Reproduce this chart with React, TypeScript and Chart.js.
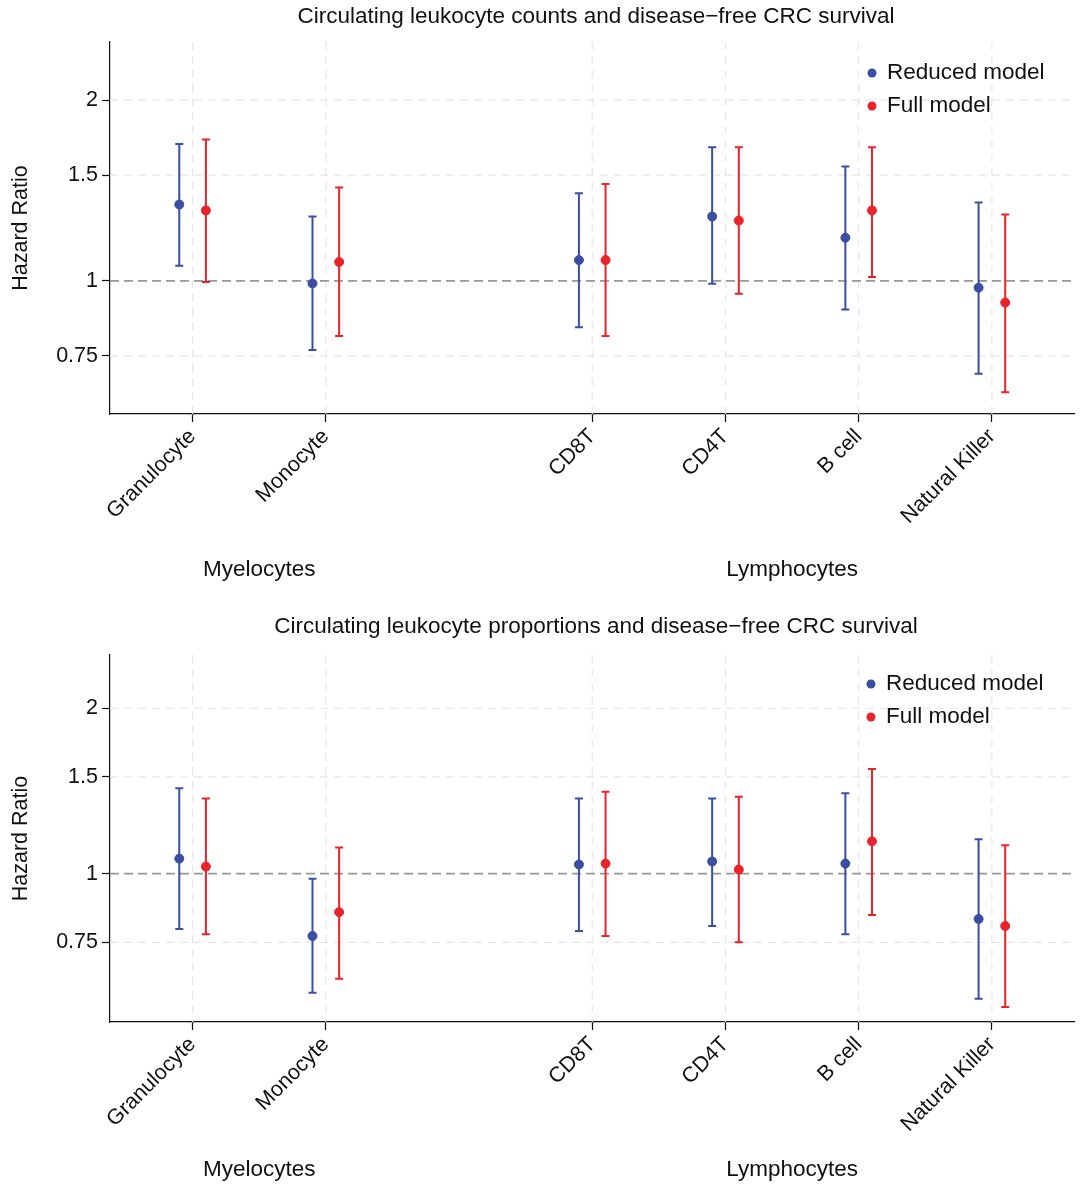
import React, { useEffect, useRef } from "react";
import { Chart, registerables } from "chart.js";
Chart.register(...registerables);

const categories = ["Granulocyte", "Monocyte", "CD8T", "CD4T", "B cell", "Natural Killer"];
const catPos = [1, 2, 4, 5, 6, 7];
const yTicks = [0.75, 1, 1.5, 2];

// Counts chart
const countsRedHR = [1.34, 0.99, 1.083, 1.28, 1.18, 0.974];
const countsRedLo = [1.06, 0.767, 0.837, 0.989, 0.896, 0.70];
const countsRedHi = [1.69, 1.28, 1.40, 1.67, 1.55, 1.35];
const countsFullHR = [1.31, 1.075, 1.083, 1.26, 1.31, 0.92];
const countsFullLo = [0.996, 0.809, 0.809, 0.952, 1.015, 0.652];
const countsFullHi = [1.72, 1.43, 1.45, 1.67, 1.67, 1.29];

// Proportions chart
const propRedHR = [1.065, 0.77, 1.039, 1.052, 1.043, 0.827];
const propRedLo = [0.793, 0.607, 0.786, 0.803, 0.776, 0.592];
const propRedHi = [1.43, 0.979, 1.37, 1.37, 1.40, 1.155];
const propFullHR = [1.03, 0.851, 1.043, 1.017, 1.145, 0.803];
const propFullLo = [0.776, 0.644, 0.77, 0.75, 0.841, 0.572];
const propFullHi = [1.37, 1.116, 1.41, 1.38, 1.55, 1.126];

const BLUE = "#3b4ea3";
const RED = "#e8232a";
const FONT = "'Liberation Sans', Arial, sans-serif";

type Cfg = {
  title: string; redHR: number[]; redLo: number[]; redHi: number[];
  fullHR: number[]; fullLo: number[]; fullHi: number[];
  yMin: number; yMax: number; padTop: number; xHeight: number;
  titleY: number; groupY: number; legX: number; legY: number;
};

function ChartPanel({ c }: { c: Cfg }) {
  const ref = useRef<HTMLCanvasElement>(null);
  useEffect(() => {
    const off = 0.1;
    const mk = (hr: number[], lo: number[], hi: number[], d: number) =>
      hr.map((v, i) => ({ x: catPos[i] + d, y: v, lo: lo[i], hi: hi[i] }));
    const plugin = {
      id: "deco",
      beforeDatasetsDraw(chart: any) {
        const { ctx, chartArea: a, scales } = chart;
        const xs = scales.x, ys = scales.y;
        ctx.save();
        ctx.strokeStyle = "#e6e6e6"; ctx.lineWidth = 1.2; ctx.setLineDash([8, 6]);
        catPos.forEach((p) => { const x = xs.getPixelForValue(p); ctx.beginPath(); ctx.moveTo(x, a.top); ctx.lineTo(x, a.bottom); ctx.stroke(); });
        yTicks.forEach((t) => { const y = ys.getPixelForValue(t); ctx.beginPath(); ctx.moveTo(a.left, y); ctx.lineTo(a.right, y); ctx.stroke(); });
        ctx.strokeStyle = "#999"; ctx.lineWidth = 1.8; ctx.setLineDash([9, 5]);
        const y1 = ys.getPixelForValue(1); ctx.beginPath(); ctx.moveTo(a.left, y1); ctx.lineTo(a.right, y1); ctx.stroke();
        ctx.setLineDash([]);
        chart.data.datasets.forEach((ds: any) => {
          ctx.strokeStyle = ds.backgroundColor; ctx.lineWidth = 2;
          ds.data.forEach((d: any) => {
            const x = xs.getPixelForValue(d.x), yl = ys.getPixelForValue(d.lo), yh = ys.getPixelForValue(d.hi);
            ctx.beginPath(); ctx.moveTo(x, yl); ctx.lineTo(x, yh);
            ctx.moveTo(x - 4, yl); ctx.lineTo(x + 4, yl); ctx.moveTo(x - 4, yh); ctx.lineTo(x + 4, yh); ctx.stroke();
          });
        });
        ctx.restore();
      },
      afterDraw(chart: any) {
        const { ctx, scales } = chart;
        ctx.save();
        ctx.fillStyle = "#111"; ctx.font = `22.5px ${FONT}`; ctx.textAlign = "center"; ctx.textBaseline = "middle";
        ctx.fillText(c.title, 596, c.titleY);
        ctx.fillText("Myelocytes", (scales.x.getPixelForValue(1) + scales.x.getPixelForValue(2)) / 2, c.groupY);
        ctx.fillText("Lymphocytes", (scales.x.getPixelForValue(4) + scales.x.getPixelForValue(7)) / 2, c.groupY);
        ctx.textAlign = "left"; ctx.font = `22.5px ${FONT}`;
        [["Reduced model", BLUE], ["Full model", RED]].forEach(([t, col], i) => {
          const y = c.legY + i * 33;
          ctx.fillStyle = col; ctx.beginPath(); ctx.arc(c.legX, y, 4.5, 0, Math.PI * 2); ctx.fill();
          ctx.fillStyle = "#111"; ctx.fillText(t, c.legX + 15, y);
        });
        ctx.restore();
      },
    };
    const chart = new Chart(ref.current!, {
      type: "scatter",
      data: {
        datasets: [
          { label: "Reduced model", data: mk(c.redHR, c.redLo, c.redHi, -off) as any, backgroundColor: BLUE, borderColor: BLUE, pointRadius: 4.5 },
          { label: "Full model", data: mk(c.fullHR, c.fullLo, c.fullHi, off) as any, backgroundColor: RED, borderColor: RED, pointRadius: 4.5 },
        ],
      },
      options: {
        animation: false, responsive: false,
        layout: { padding: { top: c.padTop, right: 0, left: 8, bottom: 0 } },
        plugins: { legend: { display: false }, tooltip: { enabled: false } },
        scales: {
          x: {
            type: "linear", min: 0.38, max: 7.62,
            afterBuildTicks: (s: any) => { s.ticks = catPos.map((v) => ({ value: v })); },
            afterFit: (s: any) => { s.height = c.xHeight; },
            ticks: { callback: (v: any) => categories[catPos.indexOf(Number(v))] ?? "", minRotation: 45, maxRotation: 45, color: "#111", font: { size: 21.5, family: FONT }, padding: 2 },
            grid: { drawOnChartArea: false, color: "#111", tickLength: 8, tickWidth: 1.2 },
            border: { color: "#111", width: 1.2 },
          },
          y: {
            type: "logarithmic", min: c.yMin, max: c.yMax,
            afterBuildTicks: (s: any) => { s.ticks = yTicks.map((v) => ({ value: v })); },
            afterFit: (s: any) => { s.width = 102; },
            ticks: { callback: (v: any) => String(v), color: "#111", font: { size: 21.5, family: FONT }, padding: 4 },
            grid: { drawOnChartArea: false, color: "#111", tickLength: 8, tickWidth: 1.2 },
            border: { color: "#111", width: 1.2 },
            title: { display: true, text: "Hazard Ratio", color: "#111", font: { size: 21.5, family: FONT }, padding: 0 },
          },
        },
      },
      plugins: [plugin],
    });
    return () => chart.destroy();
  }, []);
  return <canvas ref={ref} width={1080} height={592} style={{ display: "block" }} />;
}

const top: Cfg = {
  title: "Circulating leukocyte counts and disease\u2212free CRC survival",
  redHR: countsRedHR, redLo: countsRedLo, redHi: countsRedHi,
  fullHR: countsFullHR, fullLo: countsFullLo, fullHi: countsFullHi,
  yMin: 0.618, yMax: 2.5, padTop: 42, xHeight: 178, titleY: 17, groupY: 570, legX: 872, legY: 73,
};
const bottom: Cfg = {
  title: "Circulating leukocyte proportions and disease\u2212free CRC survival",
  redHR: propRedHR, redLo: propRedLo, redHi: propRedHi,
  fullHR: propFullHR, fullLo: propFullLo, fullHi: propFullHi,
  yMin: 0.537, yMax: 2.5, padTop: 63, xHeight: 162, titleY: 35, groupY: 578, legX: 871, legY: 92,
};

export default function App() {
  return (
    <div style={{ position: "absolute", left: 0, top: 0, width: 1080, background: "#fff" }}>
      <ChartPanel c={top} />
      <ChartPanel c={bottom} />
    </div>
  );
}
